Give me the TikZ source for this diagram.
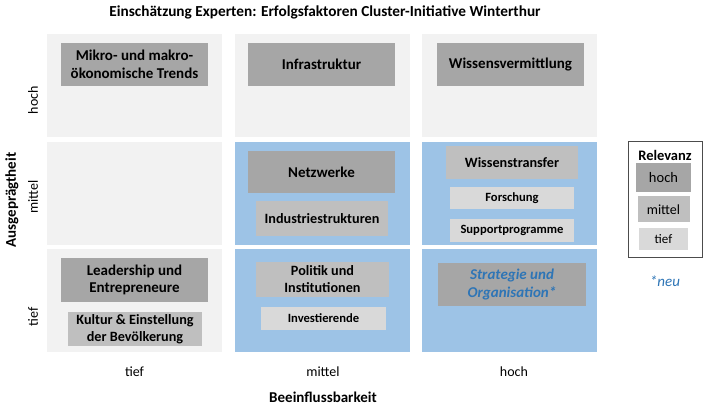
\documentclass[tikz,border=0pt]{standalone}
\usepackage{fontspec}
\setmainfont{Carlito}
\usetikzlibrary{positioning}

\definecolor{cellgray}{HTML}{F2F2F2}
\definecolor{cellblue}{HTML}{9DC3E6}
\definecolor{relhoch}{HTML}{A6A6A6}
\definecolor{relmittel}{HTML}{BFBFBF}
\definecolor{reltief}{HTML}{D9D9D9}
\definecolor{neublue}{HTML}{2E75B6}

\begin{document}
\begin{tikzpicture}[x=1pt, y=-1pt,
        cell/.style={rectangle, fill=cellgray, minimum width=175pt, minimum height=103pt, inner sep=0pt},
        bluecell/.style={cell, fill=cellblue},
        box/.style={rectangle, inner sep=0pt, align=center, font=\bfseries\fontsize{15}{17.5}\selectfont},
        hochbox/.style={box, fill=relhoch},
        mittelbox/.style={box, fill=relmittel, font=\bfseries\fontsize{14.2}{17}\selectfont},
        tiefbox/.style={box, fill=reltief, font=\bfseries\fontsize{12.6}{15}\selectfont},
        axislabel/.style={font=\fontsize{14}{16}\selectfont},
        axistitle/.style={font=\bfseries\fontsize{15}{17}\selectfont}]

    \useasboundingbox (0,0) rectangle (705,409);

    \node [font=\bfseries\fontsize{15.3}{17}\selectfont] (title) at (325,12) {Einschätzung Experten: Erfolgsfaktoren Cluster-Initiative Winterthur};

    % matrix cells
    \node [cell] (c11) at (134.5,85.5) {};
    \node [cell] (c12) at (322,85.5) {};
    \node [cell] (c13) at (509,85.5) {};
    \node [cell] (c21) at (134.5,193.5) {};
    \node [bluecell] (c22) at (322,193.5) {};
    \node [bluecell] (c23) at (509,193.5) {};
    \node [cell] (c31) at (134.5,300.5) {};
    \node [bluecell] (c32) at (322,300.5) {};
    \node [bluecell] (c33) at (509,300.5) {};

    % factors
    \node [hochbox, minimum width=147pt, minimum height=43pt] (trends) at (134.5,64.5) {Mikro- und makro-\\ökonomische Trends};
    \node [hochbox, minimum width=147pt, minimum height=43pt] (infra) at (321.5,64.5) {Infrastruktur};
    \node [hochbox, minimum width=147pt, minimum height=43pt] (vermittlung) at (510.5,64.5) {Wissensvermittlung};

    \node [hochbox, minimum width=147pt, minimum height=42pt] (netzwerke) at (321.5,172) {Netzwerke};
    \node [mittelbox, minimum width=132pt, minimum height=35pt] (industrie) at (322,218.5) {Industriestrukturen};
    \node [mittelbox, minimum width=132pt, minimum height=33pt] (transfer) at (512,162.5) {Wissenstransfer};
    \node [tiefbox, minimum width=124pt, minimum height=22pt] (forschung) at (512,198) {Forschung};
    \node [tiefbox, minimum width=124pt, minimum height=23pt] (support) at (512,230.5) {Supportprogramme};

    \node [hochbox, minimum width=147pt, minimum height=44pt] (leadership) at (134.5,280) {Leadership und\\Entrepreneure};
    \node [mittelbox, minimum width=134pt, minimum height=34pt] (kultur) at (135,329) {Kultur \& Einstellung\\der Bevölkerung};
    \node [mittelbox, minimum width=133pt, minimum height=35pt] (politik) at (322.5,279.5) {Politik und\\Institutionen};
    \node [tiefbox, minimum width=125pt, minimum height=23pt] (invest) at (323.5,318.5) {Investierende};
    \node [hochbox, minimum width=148pt, minimum height=43pt, text=neublue, font=\bfseries\itshape\fontsize{15}{17.5}\selectfont] (strategie) at (512,284.5) {Strategie und\\Organisation*};

    % axes
    \node [axislabel] (xtief) at (134.5,372) {tief};
    \node [axislabel] (xmittel) at (323,372) {mittel};
    \node [axislabel] (xhoch) at (514,372) {hoch};
    \node [axistitle] (xtitle) at (323,397) {Beeinflussbarkeit};

    \node [axislabel, rotate=90] (yhoch) at (33,100) {hoch};
    \node [axislabel, rotate=90] (ymittel) at (33,197) {mittel};
    \node [axislabel, rotate=90] (ytief) at (33,317) {tief};
    \node [axistitle, rotate=90] (ytitle) at (12,200) {Ausgeprägtheit};

    % legend
    \node [rectangle, draw=black!70, semithick, minimum width=74pt, minimum height=116pt, inner sep=0pt] (legend) at (665,199) {};
    \node [axistitle, font=\bfseries\fontsize{14.5}{16}\selectfont] (relevanz) at (665,155) {Relevanz};
    \node [box, fill=relhoch, font=\fontsize{14.5}{16}\selectfont, minimum width=55pt, minimum height=29pt] (lhoch) at (663.5,177.5) {hoch};
    \node [box, fill=relmittel, font=\fontsize{14}{16}\selectfont, minimum width=52pt, minimum height=26pt, below=4pt of lhoch] (lmittel) {mittel};
    \node [box, fill=reltief, font=\fontsize{13}{15}\selectfont, minimum width=49pt, minimum height=22pt, below=5pt of lmittel] (ltief) {tief};
    \node [text=neublue, font=\itshape\fontsize{15}{17}\selectfont] (neu) at (665,281) {*neu};
\end{tikzpicture}
\end{document}
